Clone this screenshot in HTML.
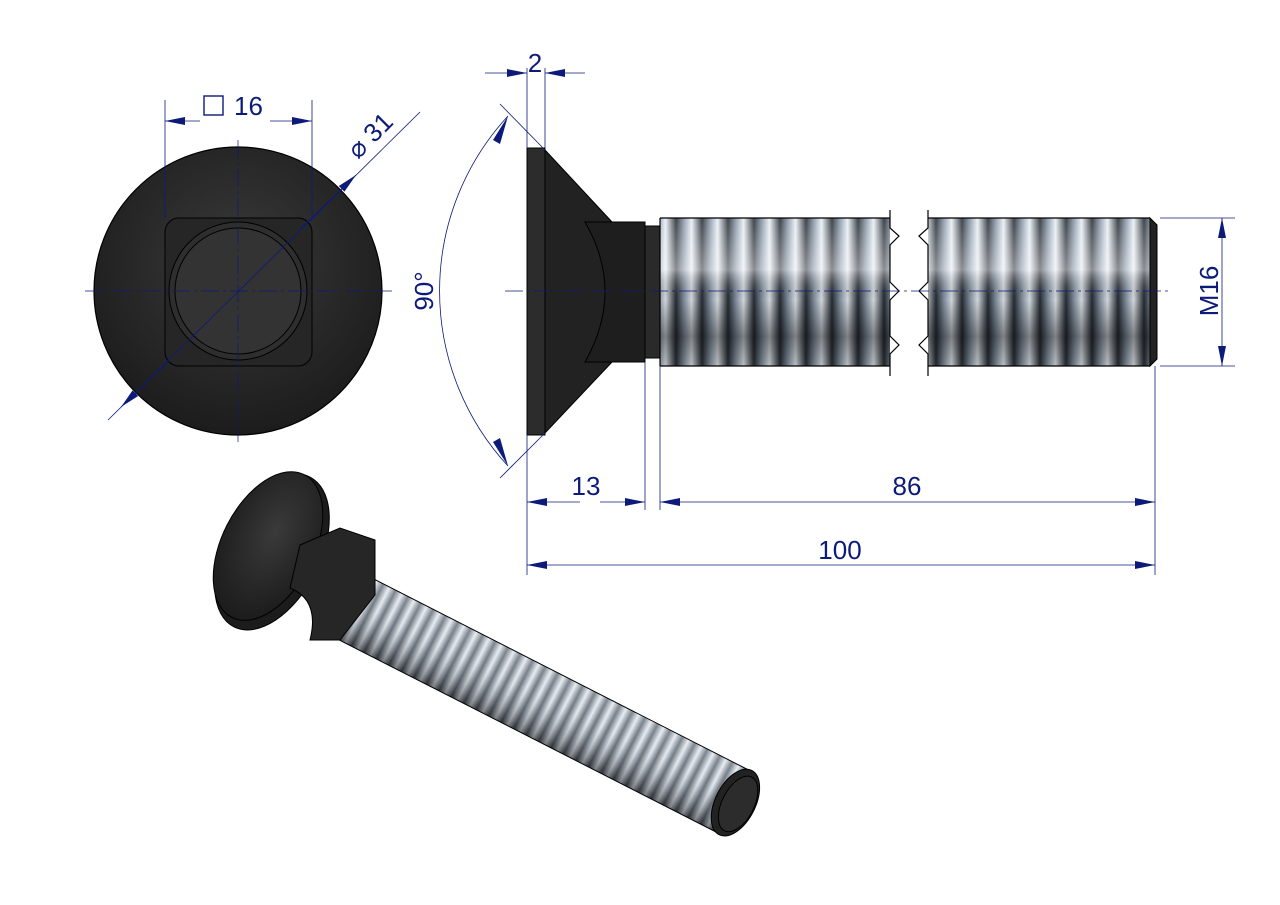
<!DOCTYPE html>
<html><head><meta charset="utf-8"><style>
html,body{margin:0;padding:0;background:#fff;}
svg{display:block;}
text{font-family:"Liberation Sans",sans-serif;fill:#0c1a7a;}
</style></head><body>
<svg width="1280" height="905" viewBox="0 0 1280 905" xmlns="http://www.w3.org/2000/svg">
<defs>
<radialGradient id="disc" cx="0.5" cy="0.4" r="0.6"><stop offset="0" stop-color="#3a3a3a"/><stop offset="1" stop-color="#1c1c1c"/></radialGradient>
<linearGradient id="thrH" x1="0" y1="0" x2="26" y2="0" gradientUnits="userSpaceOnUse" spreadMethod="repeat">
<stop offset="0" stop-color="#2a3038"/><stop offset="0.3" stop-color="#8a98a8"/><stop offset="0.6" stop-color="#e8eef4"/><stop offset="1" stop-color="#2a3038"/></linearGradient>
<linearGradient id="thrV" x1="0" y1="0" x2="0" y2="1">
<stop offset="0" stop-color="#fff" stop-opacity="0.1"/><stop offset="0.35" stop-color="#fff" stop-opacity="0.45"/><stop offset="0.55" stop-color="#000" stop-opacity="0.1"/><stop offset="0.8" stop-color="#000" stop-opacity="0.45"/><stop offset="1" stop-color="#000" stop-opacity="0.2"/></linearGradient>
<linearGradient id="isoH" x1="0" y1="0" x2="14" y2="0" gradientUnits="userSpaceOnUse" spreadMethod="repeat">
<stop offset="0" stop-color="#4a5460"/><stop offset="0.5" stop-color="#dfe6ee"/><stop offset="1" stop-color="#4a5460"/></linearGradient>
<linearGradient id="isoV" x1="0" y1="0" x2="0" y2="1">
<stop offset="0" stop-color="#fff" stop-opacity="0.3"/><stop offset="0.4" stop-color="#fff" stop-opacity="0.2"/><stop offset="1" stop-color="#000" stop-opacity="0.45"/></linearGradient>
<marker id="ar" viewBox="0 0 20 8" refX="20" refY="4" markerWidth="20" markerHeight="8" orient="auto" markerUnits="userSpaceOnUse"><path d="M0,0 L20,4 L0,8 Z" fill="#0c1a7a"/></marker>
</defs>

<!-- FRONT VIEW -->
<circle cx="238" cy="291" r="144" fill="url(#disc)" stroke="#000" stroke-width="1.2"/>
<rect x="165" y="218" width="147" height="148" rx="14" fill="#262626" stroke="#000" stroke-width="1"/>
<circle cx="238" cy="291" r="69" fill="#2e2e2e" stroke="#000"/>
<circle cx="238" cy="291" r="63" fill="#333" stroke="#000"/>
<g stroke="#0c1a7a" stroke-width="0.7" stroke-dasharray="18,4,3,4" fill="none">
<line x1="85" y1="291" x2="392" y2="291"/><line x1="238" y1="140" x2="238" y2="442"/>
</g>
<g stroke="#0c1a7a" stroke-width="0.8" fill="none">
<line x1="165" y1="100" x2="165" y2="218"/><line x1="312" y1="100" x2="312" y2="218"/>
<line x1="200" y1="121" x2="165" y2="121" marker-end="url(#ar)"/><line x1="270" y1="121" x2="312" y2="121" marker-end="url(#ar)"/>
<line x1="108" y1="420" x2="420" y2="112"/>
<line x1="300" y1="229" x2="356" y2="175" marker-end="url(#ar)"/>
<line x1="170" y1="360" x2="121" y2="407" marker-end="url(#ar)"/>
</g>
<rect x="204" y="96" width="19" height="19" fill="none" stroke="#0c1a7a" stroke-width="1.4"/>
<text x="234" y="115" font-size="26">16</text>
<text x="0" y="0" font-size="26" transform="translate(358,160) rotate(-45)">⌀ 31</text>

<!-- SIDE VIEW -->
<polygon points="545,150 612,222 612,362 545,433" fill="#222" stroke="#000"/>
<rect x="527" y="148" width="18" height="287" fill="#2c2c2c" stroke="#000"/>
<path d="M585,222 L645,222 L645,362 L585,362 Q625,291 585,222 Z" fill="#1e1e1e" stroke="#000"/>
<rect x="645" y="226" width="15" height="132" fill="#2a2a2a" stroke="#000"/>
<rect x="660" y="218" width="230" height="148" fill="url(#thrH)"/>
<rect x="660" y="218" width="230" height="148" fill="url(#thrV)"/>
<rect x="928" y="218" width="222" height="148" fill="url(#thrH)"/>
<rect x="928" y="218" width="222" height="148" fill="url(#thrV)"/>
<polygon points="1150,218 1157,225 1157,359 1150,366" fill="#222" stroke="#000"/>
<line x1="660" y1="218" x2="890" y2="218" stroke="#000" stroke-width="1.2"/>
<line x1="660" y1="366" x2="890" y2="366" stroke="#000" stroke-width="1.2"/>
<line x1="660" y1="218" x2="660" y2="366" stroke="#000" stroke-width="1.2"/>
<line x1="928" y1="218" x2="1150" y2="218" stroke="#000" stroke-width="1.2"/>
<line x1="928" y1="366" x2="1150" y2="366" stroke="#000" stroke-width="1.2"/>
<rect x="891" y="210" width="36" height="170" fill="#fff"/>
<path d="M890,210 L890,228 L899,236 L890,245 L890,282 L899,291 L890,300 L890,336 L899,345 L890,354 L890,376" fill="none" stroke="#000" stroke-width="1.2"/>
<path d="M928,210 L928,228 L919,236 L928,245 L928,282 L919,291 L928,300 L928,336 L919,345 L928,354 L928,376" fill="none" stroke="#000" stroke-width="1.2"/>
<line x1="505" y1="291" x2="1170" y2="291" stroke="#0c1a7a" stroke-width="0.7" stroke-dasharray="18,4,3,4"/>
<g stroke="#0c1a7a" stroke-width="0.8" fill="none">
<line x1="527" y1="68" x2="527" y2="148"/><line x1="545" y1="68" x2="545" y2="148"/>
<line x1="485" y1="73" x2="527" y2="73" marker-end="url(#ar)"/><line x1="585" y1="73" x2="545" y2="73" marker-end="url(#ar)"/>
<line x1="545" y1="150" x2="500" y2="104"/><line x1="545" y1="433" x2="500" y2="478"/>
<path d="M508,116 A258,258 0 0 0 508,466"/>
<line x1="527" y1="435" x2="527" y2="575"/><line x1="645" y1="362" x2="645" y2="510"/><line x1="660" y1="366" x2="660" y2="510"/><line x1="1155" y1="366" x2="1155" y2="575"/>
<line x1="580" y1="502" x2="527" y2="502" marker-end="url(#ar)"/><line x1="600" y1="502" x2="645" y2="502" marker-end="url(#ar)"/>
<line x1="900" y1="502" x2="660" y2="502" marker-end="url(#ar)"/><line x1="900" y1="502" x2="1155" y2="502" marker-end="url(#ar)"/>
<line x1="840" y1="565" x2="527" y2="565" marker-end="url(#ar)"/><line x1="840" y1="565" x2="1155" y2="565" marker-end="url(#ar)"/>
<line x1="1160" y1="218" x2="1235" y2="218"/><line x1="1160" y1="366" x2="1235" y2="366"/>
<line x1="1222" y1="291" x2="1222" y2="218" marker-end="url(#ar)"/><line x1="1222" y1="291" x2="1222" y2="366" marker-end="url(#ar)"/>
</g>
<path d="M493,140 L508,116 L500,144 Z" fill="#0c1a7a"/>
<path d="M493,442 L508,466 L500,438 Z" fill="#0c1a7a"/>
<text x="0" y="0" font-size="26" text-anchor="middle" transform="translate(433,291) rotate(-90)">90°</text>
<text x="535" y="72" font-size="26" text-anchor="middle">2</text>
<text x="586" y="495" font-size="26" text-anchor="middle">13</text>
<text x="907" y="495" font-size="26" text-anchor="middle">86</text>
<text x="840" y="559" font-size="26" text-anchor="middle">100</text>
<text x="0" y="0" font-size="26" text-anchor="middle" transform="translate(1218,291) rotate(-90)">M16</text>

<!-- ISO VIEW -->
<g transform="translate(330,596) rotate(27)">
<rect x="0" y="-35" width="455" height="70" fill="url(#isoH)"/>
<rect x="0" y="-35" width="455" height="70" fill="url(#isoV)"/>
<line x1="0" y1="-35" x2="455" y2="-35" stroke="#000"/><line x1="0" y1="35" x2="455" y2="35" stroke="#000"/>
<ellipse cx="455" cy="0" rx="20" ry="36" fill="#222" stroke="#000"/>
<ellipse cx="458" cy="0" rx="16" ry="30" fill="#2c2c2c" stroke="#000"/>
</g>
<ellipse cx="272" cy="552" rx="48" ry="84" transform="rotate(27 272 552)" fill="#1c1c1c" stroke="#000"/>
<ellipse cx="268" cy="546" rx="46" ry="80" transform="rotate(27 268 546)" fill="url(#disc)" stroke="#000"/>
<path d="M300,545 L340,528 L375,540 L375,595 L340,640 L310,640 Q320,600 290,588 Z" fill="#262626" stroke="#000"/>
</svg>
</body></html>
